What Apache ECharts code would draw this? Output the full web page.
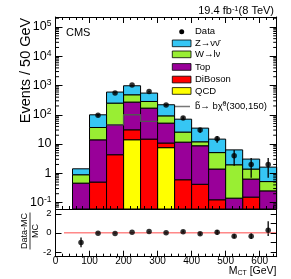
<!DOCTYPE html>
<html><head><meta charset="utf-8">
<script src="https://cdn.jsdelivr.net/npm/echarts@6/dist/echarts.min.js"></script>
<style>html,body{margin:0;padding:0;background:#fff}#c{width:291px;height:279px}</style>
</head><body><div id="c"></div>
<script>
// ---- data ----
const binLow = [50, 100, 150, 200, 250, 300, 350, 400, 450, 500, 550, 600];
const binWidth = 50;
const qcdVals     = [0, 0, 0, 14, 0, 7.5, 0, 0, 0, 0, 0, 0];
const dibosonVals = [0, 0.5, 4.3, 16.6, 14.7, 3.3, 0.6, 0.42, 0.124, 0, 0.153, 0];
const topVals     = [0.46, 13.4, 41.2, 241, 154, 41, 11.0, 8.3, 1.27, 0.141, 0.48, 0.25];
const wVals       = [0.43, 22.8, 205, 211, 116, 40, 14, 3.2, 3.7, 1.81, 0.76, 0.27];
const zVals       = [0.53, 63, 346, 499, 267, 128, 45, 23, 9.6, 4.35, 1.66, 1.1];
const dataX       = [75, 125, 175, 225, 275, 325, 375, 425, 475, 525, 575, 625];
const dataVals    = [0, 97, 560, 1040, 620, 215, 78, 30, 15, 4, 2, 2];
const dataErrLo   = [0, 10, 24, 32, 25, 15, 9, 5.5, 3.9, 2.2, 1.3, 1.3];
const dataErrHi   = [0, 10, 24, 32, 25, 15, 9, 5.5, 3.9, 2.2, 1.3, 1.3];
const signalEdges = [150, 200, 250, 300];
const signalVals  = [45, 100, 59];
const ratioVals   = [-1.0, -0.03, -0.08, 0.07, 0.13, 0.0, 0.12, -0.1, 0.05, -0.35, -0.35, 0.26];
const ratioErrLo  = [0.5, 0.05, 0.04, 0.03, 0.04, 0.07, 0.12, 0.15, 0.25, 0.2, 0.3, 0.6];
const ratioErrHi  = [0.5, 0.05, 0.04, 0.03, 0.04, 0.07, 0.12, 0.15, 0.25, 0.2, 0.3, 0.95];
const refLineX    = [25, 650];
const refLineY    = [0, 0];
const xTickLabels = [0, 100, 200, 300, 400, 500, 600];
const ratioTicks  = [-2, -1, 0, 1, 2];
const minorMult   = [2, 3, 4, 5, 6, 7, 8, 9];
const decades     = [-2, -1, 0, 1, 2, 3, 4, 5];

const yMin = 0.06, yMax = 2.2e5;
const xMin = 0, xMax = 650;
const FONT = 'Liberation Sans, Arial, Helvetica, sans-serif';

// plot frame geometry (pixels)
const gLeft = 55.5, gWidth = 221.2;
const pxPerGeV = gWidth / (xMax - xMin);
const labelPad = 10; // GeV of extra room on the label-only axis so that 0 is not its end label

const layers = [
  {name: 'QCD', color: '#ffff00', vals: qcdVals},
  {name: 'DiBoson', color: '#ff0000', vals: dibosonVals},
  {name: 'Top', color: '#990099', vals: topVals},
  {name: 'W→lν', color: '#99ee33', vals: wVals},
  {name: 'Z→νν\u0304', color: '#36c6f4', vals: zVals}
];
const cum = binLow.map(() => 0);
const stackSeries = layers.map(L => {
  const rows = binLow.map((lo, i) => {
    const base = cum[i];
    cum[i] += L.vals[i];
    return [lo, lo + binWidth, Math.max(base, yMin), Math.max(cum[i], yMin)];
  });
  return {
    type: 'custom', name: L.name, xAxisIndex: 0, yAxisIndex: 0, clip: true, z: 2,
    data: rows, encode: {x: [0, 1], y: [2, 3]},
    renderItem(params, api) {
      const b = api.value(2), t = api.value(3);
      if (!(t > b)) return null;
      const p0 = api.coord([api.value(0), t]);
      const p1 = api.coord([api.value(1), b]);
      return {type: 'rect', shape: {x: p0[0], y: p0[1], width: p1[0] - p0[0], height: p1[1] - p0[1]},
        style: {fill: L.color, stroke: '#000', lineWidth: 1}};
    }
  };
});

function errorBars(xi, yi, xs, vs, lo, hi, logClamp) {
  const rows = xs.map((x, i) => [x, vs[i], lo[i], hi[i]]).filter(r => !logClamp || r[1] > 0);
  return {
    type: 'custom', xAxisIndex: xi, yAxisIndex: yi, clip: true, z: 3, data: rows,
    encode: {x: 0, y: 1},
    renderItem(params, api) {
      const x = api.value(0), v = api.value(1);
      let l = v - api.value(2);
      if (logClamp) l = Math.max(l, yMin);
      const p1 = api.coord([x, l]), p2 = api.coord([x, v + api.value(3)]);
      return {type: 'line', shape: {x1: p1[0], y1: p1[1], x2: p2[0], y2: p2[1]},
        style: {stroke: '#000', lineWidth: 1.3}};
    }
  };
}

const signalData = signalEdges.map((e, i) => [e, signalVals[Math.min(i, signalVals.length - 1)]]);

const commonX = {
  type: 'value', min: xMin, max: xMax, interval: 100, z: 5,
  axisLine: {onZero: false, lineStyle: {color: '#000', width: 1}},
  axisTick: {inside: true, length: 6, lineStyle: {color: '#000', width: 1}},
  minorTick: {show: true, splitNumber: 5, length: 3, lineStyle: {color: '#000', width: 1}},
  splitLine: {show: false}, minorSplitLine: {show: false},
  axisLabel: {show: false}
};
function logLabel(v) {
  const lg = Math.log10(v), e = Math.round(lg);
  if (Math.abs(lg - e) > 1e-6) return '';
  if (e === 0) return '{b|1}';
  if (e === 1) return '{b|10}';
  return '{b|10}{s|' + e + '}';
}
const commonLogY = {
  type: 'log', min: yMin, max: yMax, z: 5, splitNumber: 5,
  axisLine: {onZero: false, show: true, lineStyle: {color: '#000', width: 1}},
  axisTick: {inside: true, length: 7, lineStyle: {color: '#000', width: 1}},
  splitLine: {show: false}, minorTick: {show: false}
};
const commonRatioY = {
  type: 'value', min: -2.5, max: 2.5, z: 5,
  axisLine: {onZero: false, show: true, lineStyle: {color: '#000', width: 1}},
  axisTick: {inside: true, length: 6, customValues: ratioTicks, lineStyle: {color: '#000', width: 1}},
  splitLine: {show: false}
};

const option = {
  animation: false,
  textStyle: {fontFamily: FONT, color: '#000'},
  grid: [
    {left: gLeft, top: 17, width: gWidth, height: 192},
    {left: gLeft, top: 209, width: gWidth, height: 47.7},
    {left: gLeft - labelPad * pxPerGeV, top: 256.7, width: gWidth + labelPad * pxPerGeV, height: 0.5}
  ],
  xAxis: [
    Object.assign({}, commonX, {gridIndex: 0, position: 'bottom'}),
    Object.assign({}, commonX, {gridIndex: 0, position: 'top'}),
    Object.assign({}, commonX, {gridIndex: 1, position: 'bottom'}),
    {gridIndex: 2, type: 'value', min: xMin - labelPad, max: xMax, position: 'top',
      axisLine: {show: false, onZero: false}, axisTick: {show: false}, splitLine: {show: false},
      axisLabel: {show: true, inside: true, customValues: xTickLabels, showMinLabel: true, showMaxLabel: true, hideOverlap: false,
        fontSize: 10, margin: 0.5, lineHeight: 8, color: '#000', fontFamily: FONT}}
  ],
  yAxis: [
    Object.assign({}, commonLogY, {gridIndex: 0, position: 'left',
      axisLabel: {show: true, margin: 4, formatter: logLabel, color: '#000', showMinLabel: true, showMaxLabel: true,
        rich: {b: {fontSize: 12.5, fontFamily: FONT, color: '#000', lineHeight: 15},
               s: {fontSize: 8.5, fontFamily: FONT, color: '#000', verticalAlign: 'top', lineHeight: 9}}}}),
    Object.assign({}, commonLogY, {gridIndex: 0, position: 'right', axisLabel: {show: false}}),
    Object.assign({}, commonRatioY, {gridIndex: 1, position: 'left',
      axisLabel: {show: true, customValues: ratioTicks, showMinLabel: true, showMaxLabel: true, hideOverlap: false,
        fontSize: 9.5, margin: 4, lineHeight: 10, color: '#000', fontFamily: FONT}}),
    Object.assign({}, commonRatioY, {gridIndex: 1, position: 'right', axisLabel: {show: false}}),
    {gridIndex: 2, type: 'value', min: 0, max: 1, position: 'right', show: false}
  ],
  series: [
    ...stackSeries,
    {type: 'line', name: 'signal', xAxisIndex: 0, yAxisIndex: 0, step: 'end', data: signalData,
      showSymbol: false, symbol: 'none', z: 3, lineStyle: {color: '#555', width: 1.3}},
    errorBars(0, 0, dataX, dataVals, dataErrLo, dataErrHi, true),
    {type: 'scatter', name: 'Data', xAxisIndex: 0, yAxisIndex: 0, z: 4, symbolSize: 5.5,
      itemStyle: {color: '#000'},
      data: dataX.map((x, i) => [x, dataVals[i]]).filter(r => r[1] > 0)},
    {type: 'custom', xAxisIndex: 0, yAxisIndex: 0, clip: false, z: 5, silent: true,
      data: [[325, 1]],
      renderItem(params, api) {
        const cs = params.coordSys, xL = cs.x, xR = cs.x + cs.width;
        const children = [];
        decades.forEach(d => minorMult.forEach(m => {
          const v = m * Math.pow(10, d);
          if (v <= yMin || v >= yMax) return;
          const y = api.coord([0, v])[1];
          children.push({type: 'line', shape: {x1: xL, y1: y, x2: xL + 3.5, y2: y}, style: {stroke: '#000', lineWidth: 1}});
          children.push({type: 'line', shape: {x1: xR - 3.5, y1: y, x2: xR, y2: y}, style: {stroke: '#000', lineWidth: 1}});
        }));
        return {type: 'group', children};
      }},
    {type: 'line', xAxisIndex: 2, yAxisIndex: 2, z: 3, showSymbol: false, symbol: 'none',
      data: refLineX.map((x, i) => [x, refLineY[i]]), lineStyle: {color: '#ff4c4c', width: 1}},
    errorBars(2, 2, dataX, ratioVals, ratioErrLo, ratioErrHi, false),
    {type: 'scatter', xAxisIndex: 2, yAxisIndex: 2, z: 4, symbolSize: 5.5, itemStyle: {color: '#000'},
      data: dataX.map((x, i) => [x, ratioVals[i]])}
  ],
  graphic: [
    {type: 'text', x: 274, y: 11, style: {text: '{a|19.4 fb}{s|-1}{a|(8 TeV)}', align: 'right', verticalAlign: 'middle',
      rich: {a: {fontSize: 11, fontFamily: FONT, fill: '#000', lineHeight: 13}, s: {fontSize: 7.5, fontFamily: FONT, fill: '#000', verticalAlign: 'top', lineHeight: 8}}}},
    {type: 'text', x: 66, y: 32.5, style: {text: 'CMS', fontSize: 11, fontFamily: FONT, fill: '#000', verticalAlign: 'middle'}},
    {type: 'text', x: 26, y: 70.5, rotation: Math.PI / 2, style: {text: 'Events / 50 GeV', fontSize: 14.5, fontFamily: FONT, fill: '#000', align: 'center', verticalAlign: 'middle'}},
    {type: 'group', x: 30, y: 231, rotation: Math.PI / 2, children: [
      {type: 'text', x: 0, y: -5.5, style: {text: 'Data-MC', fontSize: 9, fontFamily: FONT, fill: '#000', align: 'center', verticalAlign: 'middle'}},
      {type: 'line', shape: {x1: -18.5, y1: 0, x2: 18.5, y2: 0}, style: {stroke: '#000', lineWidth: 0.8}},
      {type: 'text', x: 0, y: 5.5, style: {text: 'MC', fontSize: 9, fontFamily: FONT, fill: '#000', align: 'center', verticalAlign: 'middle'}}
    ]},
    {type: 'text', x: 276.5, y: 271, style: {text: '{a|M}{s|CT}{a| [GeV]}', align: 'right', verticalAlign: 'middle',
      rich: {a: {fontSize: 10.5, fontFamily: FONT, fill: '#000', lineHeight: 12}, s: {fontSize: 7, fontFamily: FONT, fill: '#000', verticalAlign: 'bottom', lineHeight: 7}}}},
    // legend
    {type: 'circle', shape: {cx: 181.7, cy: 31.7, r: 2.5}, style: {fill: '#000'}},
    {type: 'text', x: 195, y: 31.7, style: {text: 'Data', fontSize: 9.5, fontFamily: FONT, fill: '#000', verticalAlign: 'middle'}},
    {type: 'rect', shape: {x: 172.3, y: 40, width: 18.7, height: 6.7}, style: {fill: '#36c6f4', stroke: '#000', lineWidth: 0.8}},
    {type: 'text', x: 195, y: 43.3, style: {text: 'Z→νν\u0304', fontSize: 9.5, fontFamily: FONT, fill: '#000', verticalAlign: 'middle'}},
    {type: 'rect', shape: {x: 172.3, y: 51, width: 18.7, height: 6.7}, style: {fill: '#99ee33', stroke: '#000', lineWidth: 0.8}},
    {type: 'text', x: 195, y: 54.3, style: {text: 'W→lν', fontSize: 9.5, fontFamily: FONT, fill: '#000', verticalAlign: 'middle'}},
    {type: 'rect', shape: {x: 172.3, y: 63.6, width: 18.7, height: 6.7}, style: {fill: '#990099', stroke: '#000', lineWidth: 0.8}},
    {type: 'text', x: 195, y: 67.2, style: {text: 'Top', fontSize: 9.5, fontFamily: FONT, fill: '#000', verticalAlign: 'middle'}},
    {type: 'rect', shape: {x: 172.3, y: 76.2, width: 18.7, height: 6.7}, style: {fill: '#ff0000', stroke: '#000', lineWidth: 0.8}},
    {type: 'text', x: 195, y: 79.6, style: {text: 'DiBoson', fontSize: 9.5, fontFamily: FONT, fill: '#000', verticalAlign: 'middle'}},
    {type: 'rect', shape: {x: 172.3, y: 87.6, width: 18.7, height: 6.7}, style: {fill: '#ffff00', stroke: '#000', lineWidth: 0.8}},
    {type: 'text', x: 195, y: 91, style: {text: 'QCD', fontSize: 9.5, fontFamily: FONT, fill: '#000', verticalAlign: 'middle'}},
    {type: 'line', shape: {x1: 173.3, y1: 106.5, x2: 190, y2: 106.5}, style: {stroke: '#777', lineWidth: 1.5}},
    {type: 'text', x: 195, y: 106.5, style: {text: '{a|b\u0303→ bχ\u0303}{s|0}{a|(300,150)}', verticalAlign: 'middle',
      rich: {a: {fontSize: 9.5, fontFamily: FONT, fill: '#000', lineHeight: 12}, s: {fontSize: 6.5, fontFamily: FONT, fill: '#000', verticalAlign: 'top', lineHeight: 7}}}}
  ]
};
const chart = echarts.init(document.getElementById('c'), null, {renderer: 'canvas'});
chart.setOption(option);
</script>
</body></html>
